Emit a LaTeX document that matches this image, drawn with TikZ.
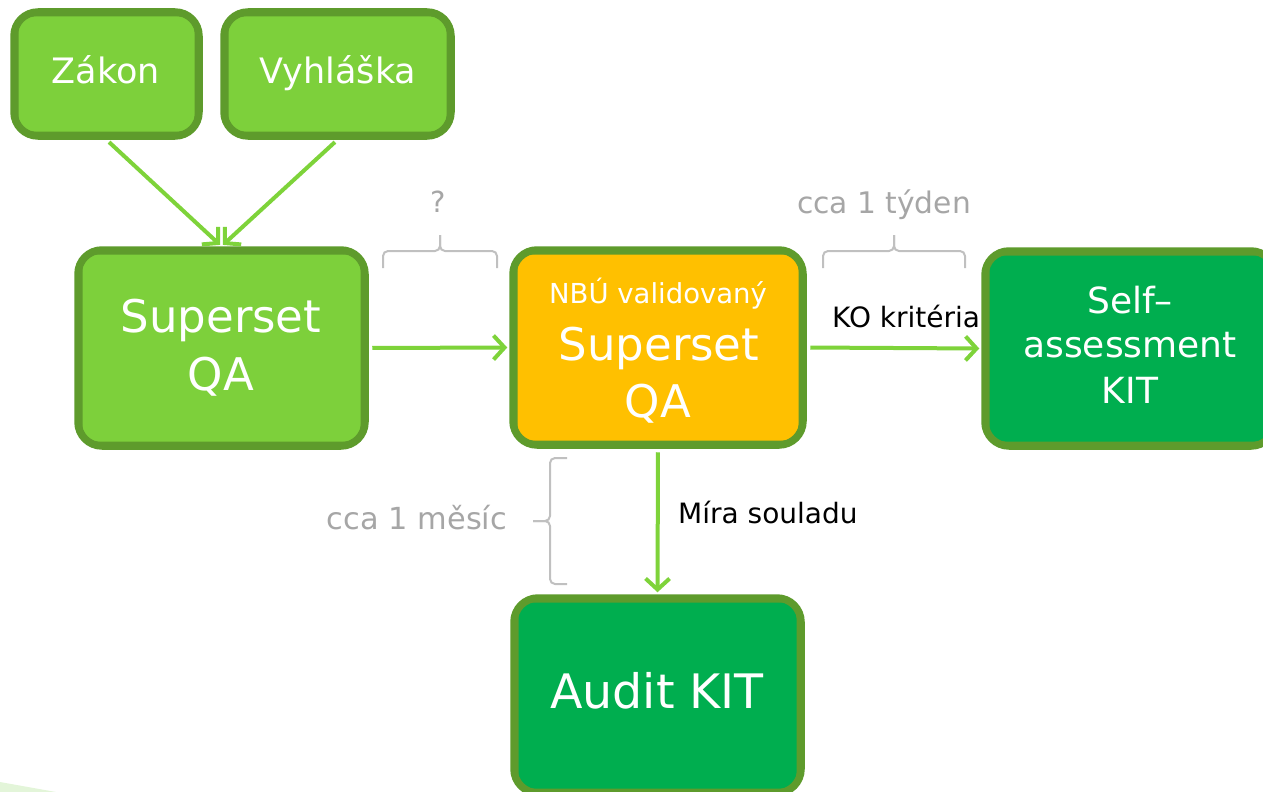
\documentclass[tikz,border=0pt]{standalone}
\usepackage{fontspec}
\setmainfont{DejaVu Sans}
\usetikzlibrary{arrows.meta}
\definecolor{dkgreen}{HTML}{5E9B2C}
\definecolor{ltgreen}{HTML}{7DD03B}
\definecolor{kitgreen}{HTML}{00AE4F}
\definecolor{nbuyellow}{HTML}{FFC000}
\definecolor{arrowgreen}{HTML}{7ED33A}
\definecolor{graytext}{HTML}{A6A6A6}
\definecolor{graybrace}{HTML}{C0C0C0}
\definecolor{palegreen}{HTML}{E3F5D9}
\tikzset{
  box/.style={draw=dkgreen, line width=7.5pt, rounded corners=24pt, inner sep=0pt},
  innerline/.style={draw=dkgreen, line width=1.5pt, rounded corners=16pt},
  wtext/.style={text=white, inner sep=0pt, anchor=base},
  flow/.style={draw=arrowgreen, line width=4pt, shorten <=3.5pt, shorten >=2pt,
    -{Straight Barb[length=11pt,width=24pt]}},
  lbl/.style={text=black, inner sep=0pt, anchor=base west, font=\fontsize{28}{33}\selectfont},
  note/.style={text=graytext, inner sep=0pt, anchor=base},
  bracket/.style={draw=graybrace, line width=2pt, rounded corners=5pt}
}
\begin{document}
\begin{tikzpicture}[x=1pt,y=-1pt]
\useasboundingbox (0,0) rectangle (1263,792);
\clip (0,0) rectangle (1263,792);
\fill[palegreen] (0,782) -- (56,792) -- (0,792) -- cycle;

% boxes
\node[box, fill=ltgreen, minimum width=185pt, minimum height=124pt] (zakon) at (106.5,74) {};
\node[box, fill=ltgreen, minimum width=227pt, minimum height=124pt] (vyhlaska) at (337.5,74) {};
\node[box, fill=ltgreen, minimum width=287pt, minimum height=196pt] (sup1) at (221.5,348) {};
\node[box, fill=nbuyellow, minimum width=290pt, minimum height=195pt] (nbu) at (658,347.5) {};
\node[box, fill=kitgreen, minimum width=290pt, minimum height=195pt] (self) at (1130,348.5) {};
\node[box, fill=kitgreen, minimum width=287pt, minimum height=195pt] (audit) at (657.5,695.5) {};
\foreach \n in {zakon,vyhlaska,sup1,nbu,self,audit}
  \draw[innerline] ([shift={(7.5,7.5)}]\n.north west) rectangle ([shift={(-7.5,-7.5)}]\n.south east);

% box texts
\node[wtext, font=\fontsize{35}{42}\selectfont] (zakon-t) at (106,83) {Zákon};
\node[wtext, font=\fontsize{35}{42}\selectfont] (vyhlaska-t) at (338,83) {Vyhláška};
\node[wtext, font=\fontsize{45}{52}\selectfont] (sup1-a) at (221,332) {Superset};
\node[wtext, font=\fontsize{45}{52}\selectfont] (sup1-b) at (221,390) {QA};
\node[wtext, font=\fontsize{27.5}{33}\selectfont] (nbu-a) at (658,303) {NBÚ validovaný};
\node[wtext, font=\fontsize{45}{52}\selectfont] (nbu-b) at (659,360) {Superset};
\node[wtext, font=\fontsize{45}{52}\selectfont] (nbu-c) at (658,417) {QA};
\node[wtext, font=\fontsize{36}{43}\selectfont] (self-a) at (1130,313) {Self–};
\node[wtext, font=\fontsize{36}{43}\selectfont] (self-b) at (1130,357) {assessment};
\node[wtext, font=\fontsize{36}{43}\selectfont] (self-c) at (1130,403) {KIT};
\node[wtext, font=\fontsize{47.5}{56}\selectfont] (audit-t) at (657,708) {Audit KIT};

% connectors
\draw[flow] (zakon.south) -- (sup1.north);
\draw[flow] (vyhlaska.south) -- (sup1.north);
\draw[flow] (sup1.east) -- (nbu.west);
\draw[flow] (nbu.east) -- (self.west);
\draw[flow] (nbu.south) -- (audit.north);

% connector labels
\node[lbl] (ko) at (832,327) {KO kritéria};
\node[lbl] (mira) at (678,523) {Míra souladu};

% time notes and braces
\node[note, font=\fontsize{29}{34}\selectfont] (q) at (438,212) {?};
\node[note, font=\fontsize{29.7}{35}\selectfont] (tyden) at (884,213) {cca 1 týden};
\node[note, font=\fontsize{30.4}{36}\selectfont] (mesic) at (417,529) {cca 1 měsíc};

\draw[bracket] (383,268) -- (383,251) -- (440,251) -- (440,235);
\draw[bracket] (497,268) -- (497,251) -- (440,251) -- (440,235);
\draw[bracket] (823,268) -- (823,251) -- (894,251) -- (894,235);
\draw[bracket] (965,268) -- (965,251) -- (894,251) -- (894,235);
\draw[bracket] (567,458) -- (550,458) -- (550,521) -- (533,521);
\draw[bracket] (567,584) -- (550,584) -- (550,521) -- (533,521);
\end{tikzpicture}
\end{document}
